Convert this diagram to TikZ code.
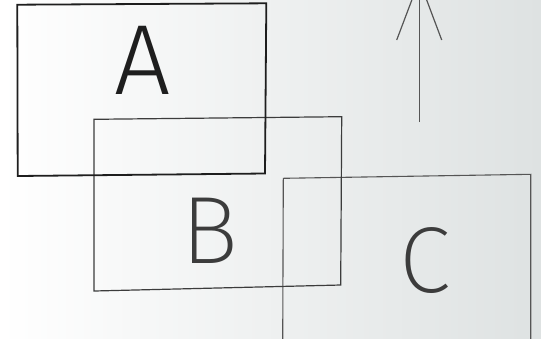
\documentclass[tikz,border=0pt]{standalone}
\usepackage{fontspec}
\setmainfont{Fira Sans Light}
\newfontfamily\thinfont{Fira Sans ExtraLight}
\definecolor{bgr}{RGB}{222,226,226}
\definecolor{inkA}{RGB}{30,30,30}
\definecolor{inkB}{RGB}{60,60,60}
\definecolor{inkC}{RGB}{85,85,85}
\begin{document}
\begin{tikzpicture}[x=1bp,y=-1bp,
  rectA/.style={draw=inkA,line width=1.8bp,line join=miter},
  rectB/.style={draw=inkB,line width=1.2bp},
  rectC/.style={draw=inkC,line width=1.1bp},
  letter/.style={inner sep=0pt,anchor=center}]
\useasboundingbox (0,0) rectangle (541,338);
\clip (0,0) rectangle (541,338);
\shade[left color=white,right color=bgr] (0,0) rectangle (541,338);
% rectangle C
\coordinate (c1) at (283.3,178.3);
\coordinate (c2) at (530.7,174.3);
\coordinate (c3) at (530.7,345);
\coordinate (c4) at (282.7,345);
\draw[rectC] (c4) -- (c1) -- (c2) -- (c3);
% rectangle B
\coordinate (b1) at (94,119.3);
\coordinate (b2) at (341.7,116.7);
\coordinate (b3) at (340.7,285);
\coordinate (b4) at (94,291);
\draw[rectB] (b1) -- (b2) -- (b3) -- (b4) -- cycle;
% rectangle A
\coordinate (a1) at (17.3,4.7);
\coordinate (a2) at (266.3,3.3);
\coordinate (a3) at (265,173.5);
\coordinate (a4) at (17.7,176);
\draw[rectA] (a1) -- (a2) -- (a3) -- (a4) -- cycle;
% letters
\node[letter,text=inkA,font=\fontsize{100}{100}\selectfont] (la) at (143,60.5) {A};
\node[letter,text=inkB,font=\thinfont\fontsize{96}{96}\selectfont] (lb) at (210,231) {B};
\node[letter,text=inkB,font=\thinfont\fontsize{94}{94}\selectfont] (lc) at (425,260.5) {C};
% arrow
\coordinate (tail) at (419.3,122);
\coordinate (tip) at (419.3,-19.7);
\coordinate (bl) at (396.7,40);
\coordinate (br) at (441.7,40);
\draw[draw=inkC,line width=1.2bp] (tail) -- (tip);
\draw[draw=inkC,line width=1.2bp] (bl) -- (tip) -- (br);
\end{tikzpicture}
\end{document}
